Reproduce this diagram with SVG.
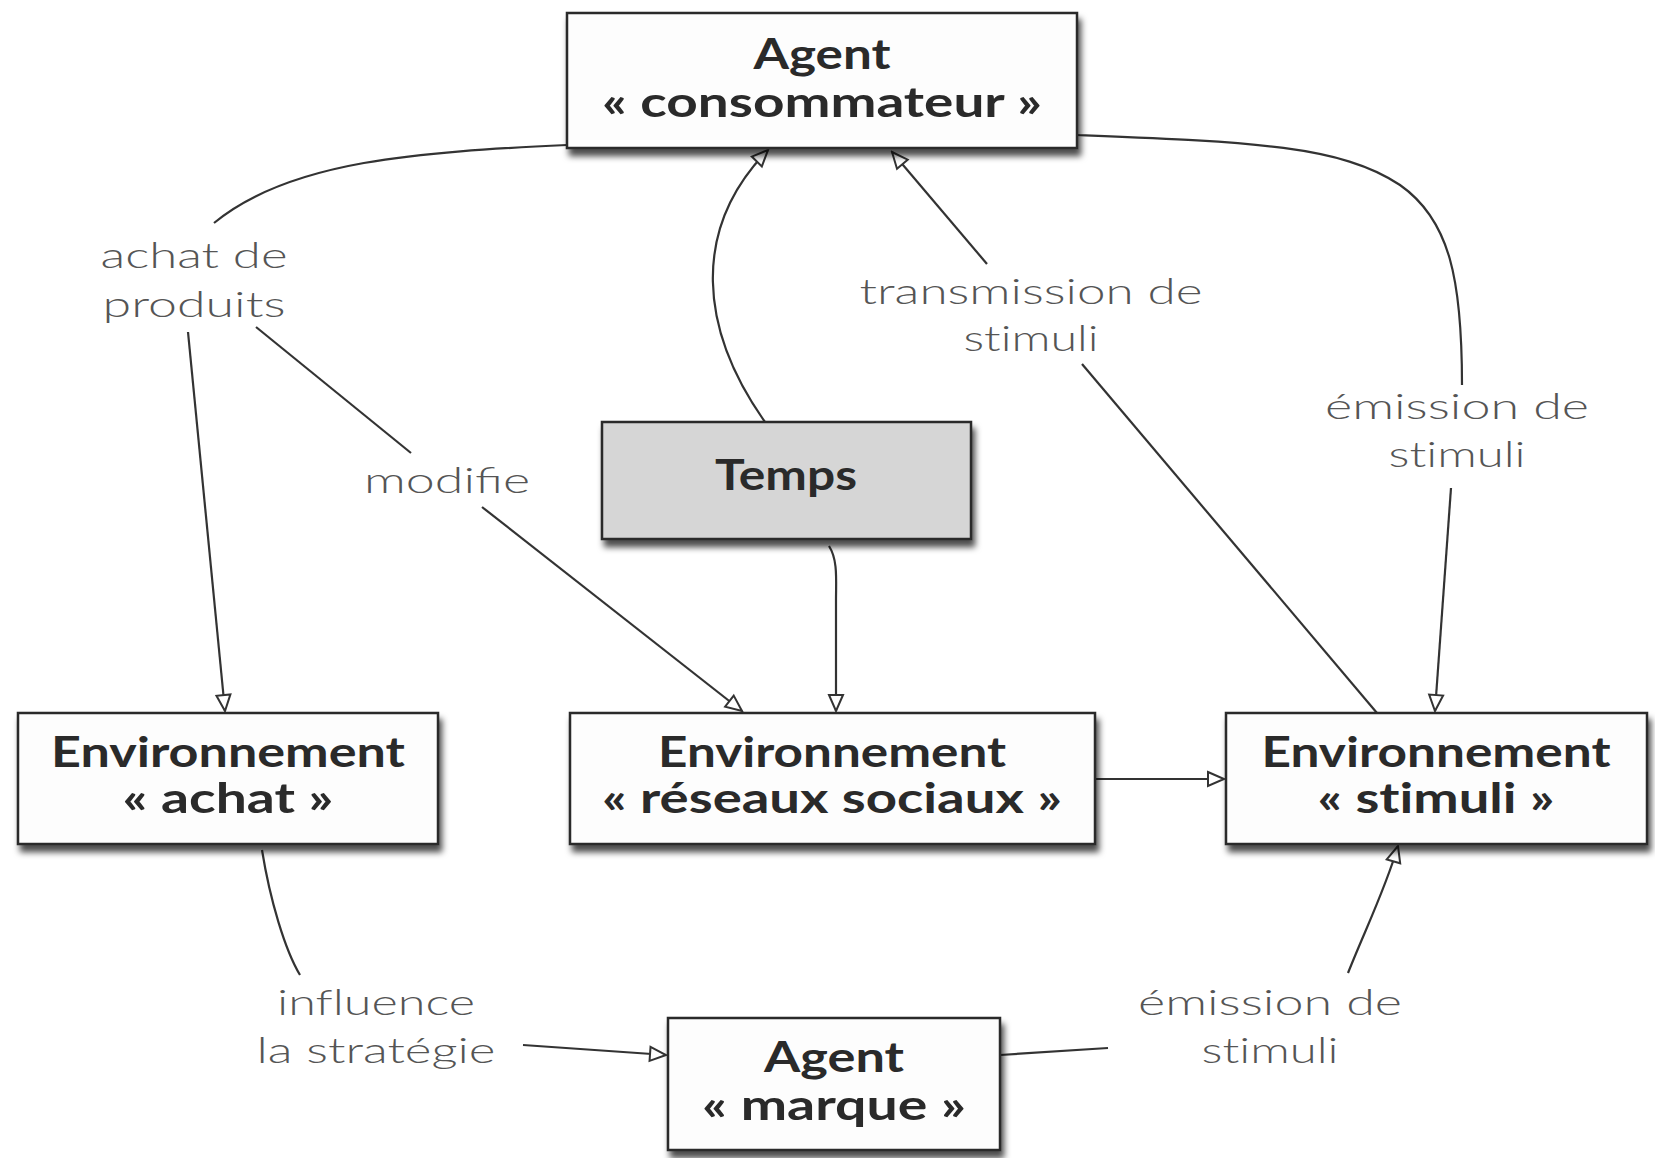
<svg xmlns="http://www.w3.org/2000/svg" width="1655" height="1158" viewBox="0 0 1655 1158">
<style>
.box{fill:#fdfdfd;stroke:#2b2b2b;stroke-width:2.5}
.gray{fill:#d6d6d6}
text{font-variant-ligatures:none}
.nt{font-family:Lato,"Liberation Sans",sans-serif;font-weight:bold;font-size:42px;fill:#2a2a2a;text-anchor:middle}
.lb{font-family:Lato,"Liberation Sans",sans-serif;font-weight:300;font-size:36px;fill:#555;text-anchor:middle}
.c{fill:none;stroke:#333;stroke-width:2.2}
</style>
<defs>
<filter id="sh" x="-10%" y="-10%" width="130%" height="140%">
<feDropShadow dx="3" dy="7" stdDeviation="3" flood-color="#000" flood-opacity="0.7"/>
</filter>
<marker id="ah" markerUnits="userSpaceOnUse" viewBox="-2 -2 20 18" markerWidth="20" markerHeight="18" refX="16" refY="7" orient="auto">
<path d="M0,0 L16,7 L0,14 Z" fill="#fff" stroke="#333" stroke-width="2"/>
</marker>
</defs>
<rect width="1655" height="1158" fill="#fff"/>

<g id="connectors">
<path class="c" d="M567,145 C 420,152 290,160 214,223"/>
<path class="c" d="M188,332 L225,711" marker-end="url(#ah)"/>
<path class="c" d="M256,327 L411,453"/>
<path class="c" d="M482,507 L742,711" marker-end="url(#ah)"/>
<path class="c" d="M765,422 C 700,330 690,230 768,150" marker-end="url(#ah)"/>
<path class="c" d="M1377,713 L1082,364"/>
<path class="c" d="M987,264 L892,152" marker-end="url(#ah)"/>
<path class="c" d="M1077,135 C 1250,142 1340,145 1400,185 C 1450,220 1462,280 1462,385"/>
<path class="c" d="M1451,488 L1435,711" marker-end="url(#ah)"/>
<path class="c" d="M829,546 C 838,560 836,580 836,600 L836,711" marker-end="url(#ah)"/>
<path class="c" d="M1096,779 L1224,779" marker-end="url(#ah)"/>
<path class="c" d="M262,850 C 270,900 285,950 300,975"/>
<path class="c" d="M523,1045 L666,1055" marker-end="url(#ah)"/>
<path class="c" d="M1000,1055 L1108,1048"/>
<path class="c" d="M1348,973 C 1365,930 1385,890 1398,846" marker-end="url(#ah)"/>
</g>

<g id="labels">
<text class="lb" x="194" y="268" textLength="187" lengthAdjust="spacingAndGlyphs">achat de</text>
<text class="lb" x="194" y="317" textLength="183" lengthAdjust="spacingAndGlyphs">produits</text>
<text class="lb" x="447" y="493" textLength="166" lengthAdjust="spacingAndGlyphs" style="font-variant-ligatures:common-ligatures">modifie</text>
<text class="lb" x="1031" y="304" textLength="343" lengthAdjust="spacingAndGlyphs">transmission de</text>
<text class="lb" x="1031" y="351" textLength="135" lengthAdjust="spacingAndGlyphs">stimuli</text>
<text class="lb" x="1457" y="419" textLength="264" lengthAdjust="spacingAndGlyphs">émission de</text>
<text class="lb" x="1457" y="467" textLength="137" lengthAdjust="spacingAndGlyphs">stimuli</text>
<text class="lb" x="376" y="1015" textLength="198" lengthAdjust="spacingAndGlyphs">influence</text>
<text class="lb" x="376" y="1063" textLength="239" lengthAdjust="spacingAndGlyphs">la stratégie</text>
<text class="lb" x="1270" y="1015" textLength="264" lengthAdjust="spacingAndGlyphs">émission de</text>
<text class="lb" x="1270" y="1063" textLength="137" lengthAdjust="spacingAndGlyphs">stimuli</text>
</g>

<g id="agent-consommateur">
<rect class="box" x="567" y="13" width="510" height="135" filter="url(#sh)"/>
<text class="nt" x="822" y="69" textLength="137" lengthAdjust="spacingAndGlyphs">Agent</text>
<text class="nt" x="822" y="117" textLength="440" lengthAdjust="spacingAndGlyphs">« consommateur »</text>
</g>

<g id="temps">
<rect class="box gray" x="602" y="422" width="369" height="117" filter="url(#sh)"/>
<text class="nt" x="786" y="490" textLength="142" lengthAdjust="spacingAndGlyphs">Temps</text>
</g>

<g id="env-achat">
<rect class="box" x="18" y="713" width="420" height="131" filter="url(#sh)"/>
<text class="nt" x="228" y="767" textLength="354" lengthAdjust="spacingAndGlyphs">Environnement</text>
<text class="nt" x="228" y="813" textLength="211" lengthAdjust="spacingAndGlyphs">« achat »</text>
</g>

<g id="env-reseaux">
<rect class="box" x="570" y="713" width="525" height="131" filter="url(#sh)"/>
<text class="nt" x="832" y="767" textLength="348" lengthAdjust="spacingAndGlyphs">Environnement</text>
<text class="nt" x="832" y="813" textLength="460" lengthAdjust="spacingAndGlyphs">« réseaux sociaux »</text>
</g>

<g id="env-stimuli">
<rect class="box" x="1226" y="713" width="421" height="131" filter="url(#sh)"/>
<text class="nt" x="1436" y="767" textLength="349" lengthAdjust="spacingAndGlyphs">Environnement</text>
<text class="nt" x="1436" y="813" textLength="237" lengthAdjust="spacingAndGlyphs">« stimuli »</text>
</g>

<g id="agent-marque">
<rect class="box" x="668" y="1018" width="332" height="132" filter="url(#sh)"/>
<text class="nt" x="834" y="1072" textLength="140" lengthAdjust="spacingAndGlyphs">Agent</text>
<text class="nt" x="834" y="1120" textLength="264" lengthAdjust="spacingAndGlyphs">« marque »</text>
</g>
</svg>
